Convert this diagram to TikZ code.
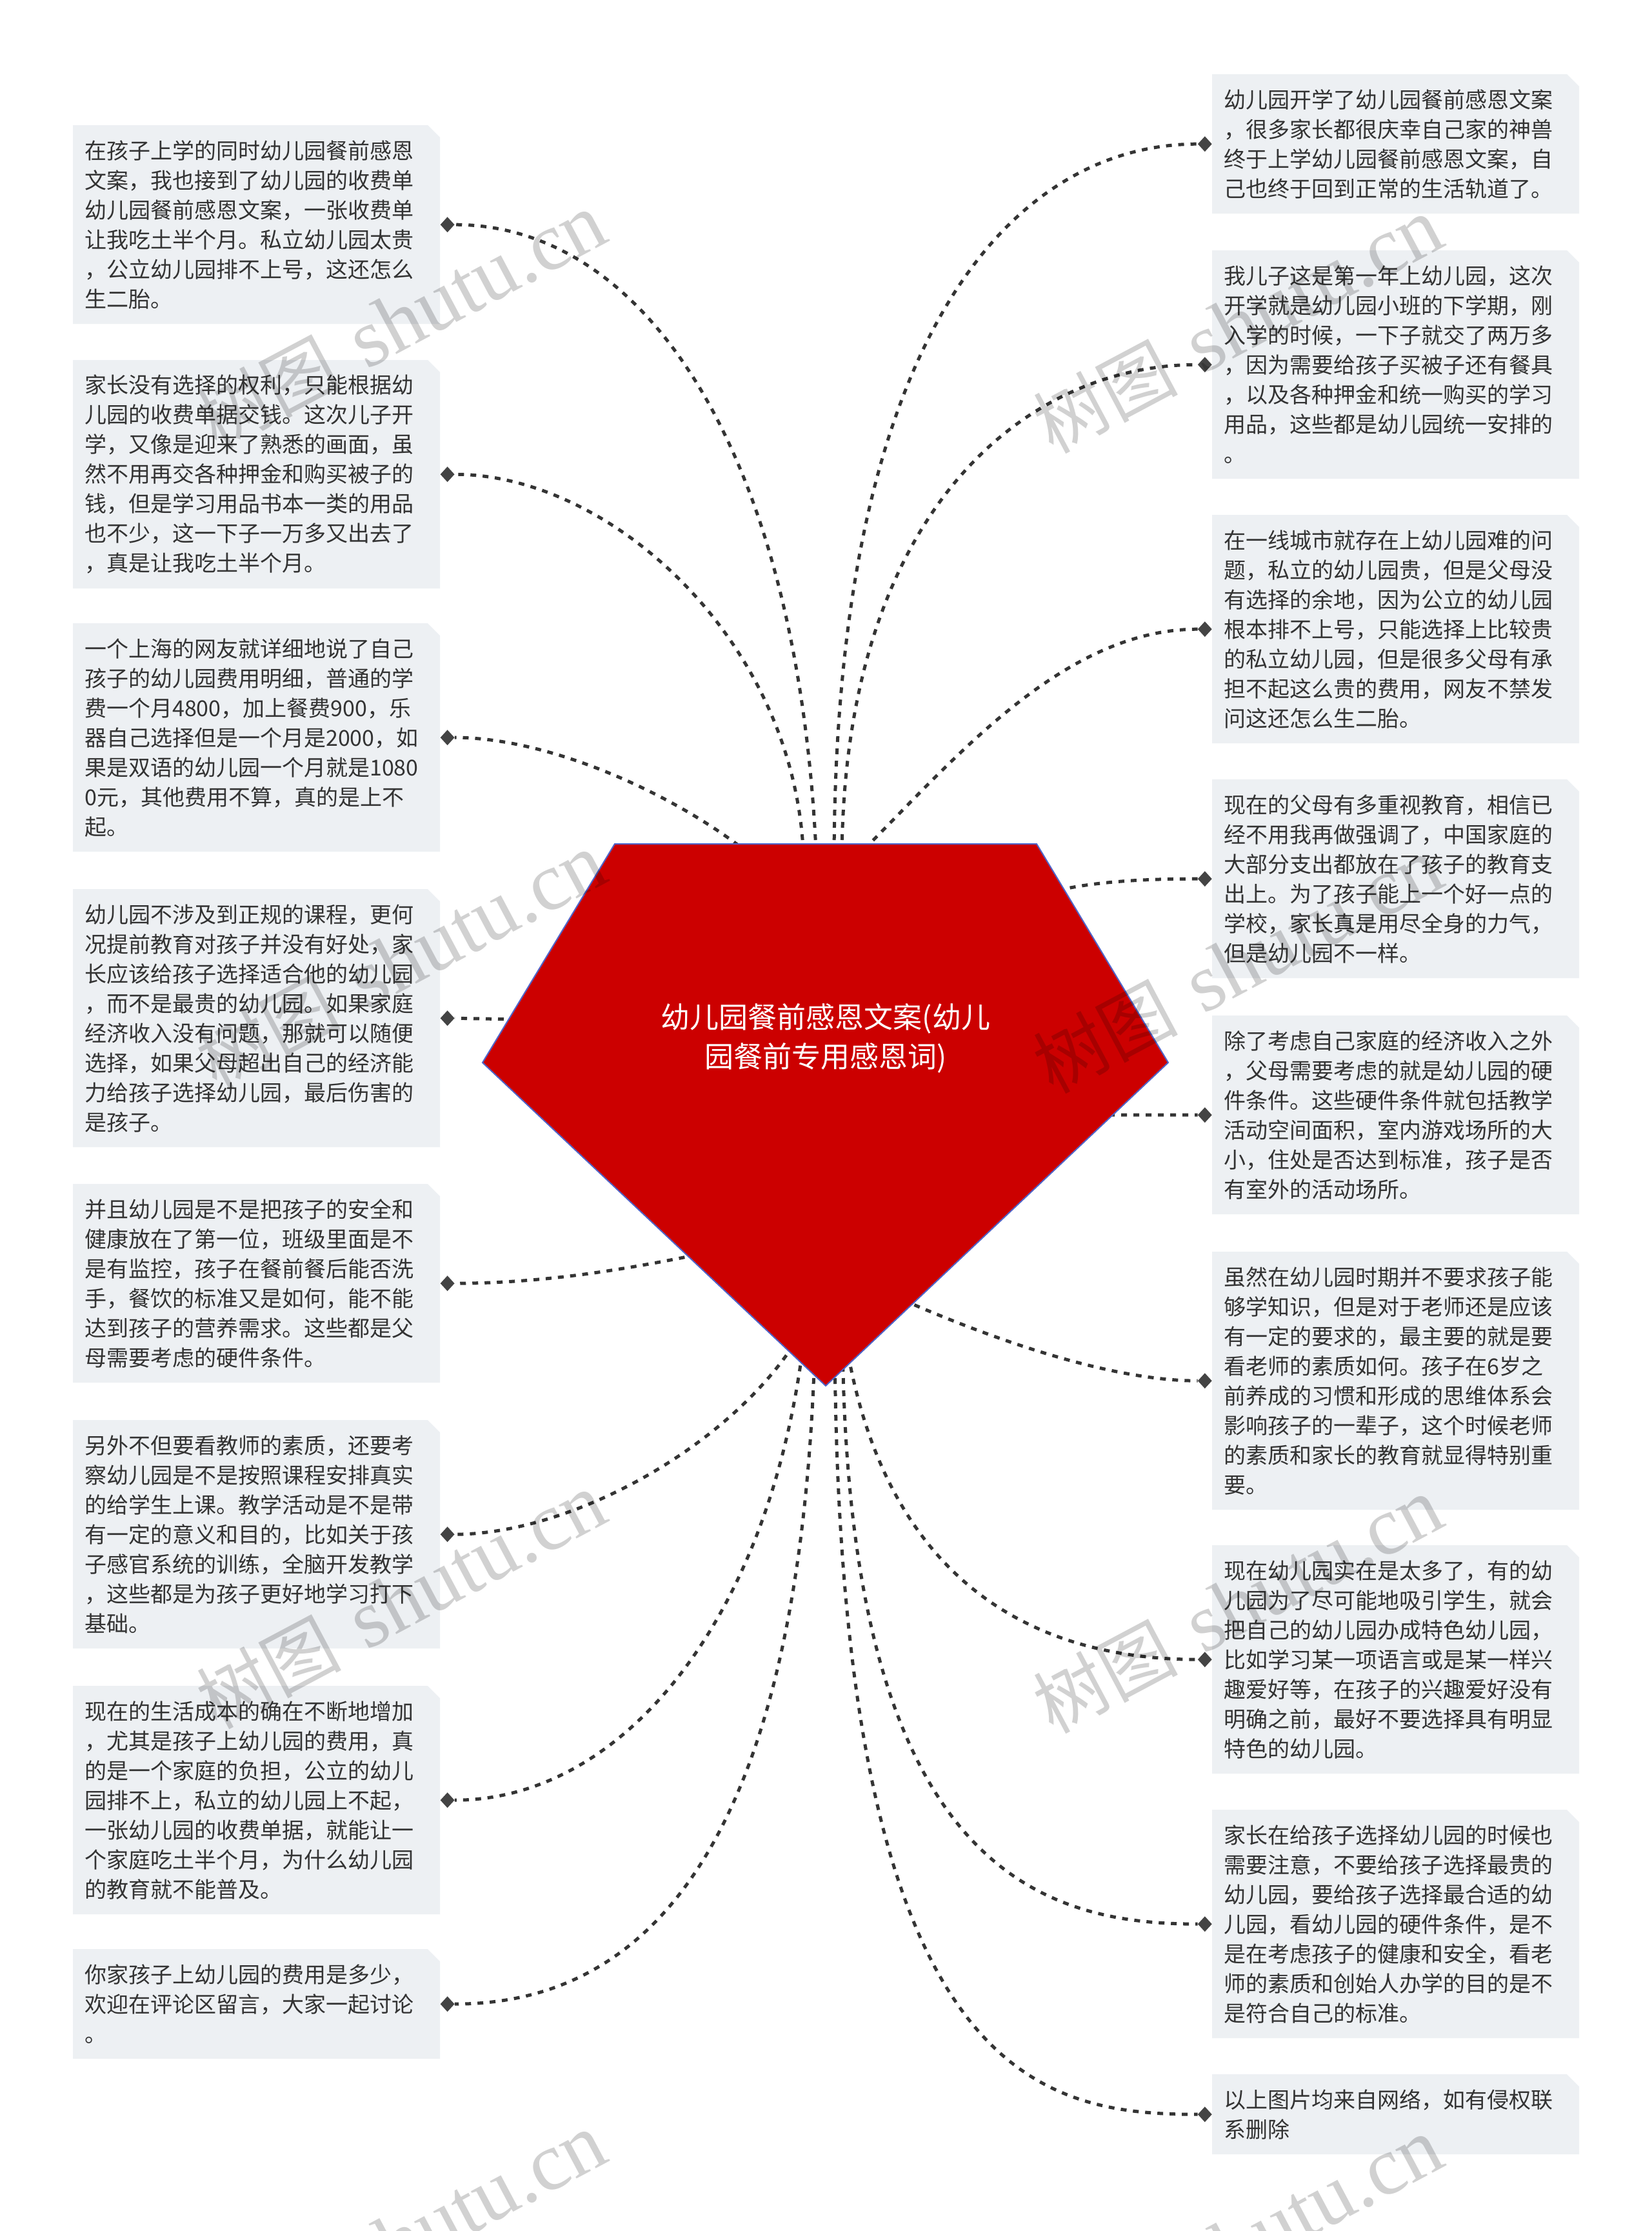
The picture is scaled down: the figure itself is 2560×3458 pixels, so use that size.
\documentclass[tikz,border=0pt]{standalone}
\usepackage{fontspec}
\newfontfamily\cjk{Noto Sans CJK SC}
\newfontfamily\wmlat{Liberation Serif}
\usetikzlibrary{shapes.geometric}
\definecolor{boxbg}{RGB}{237,240,243}
\definecolor{txt}{RGB}{51,51,51}
\definecolor{lnk}{RGB}{52,52,52}
\definecolor{diafill}{RGB}{68,68,68}
\definecolor{rootred}{RGB}{204,0,0}
\definecolor{rootline}{RGB}{80,100,200}
\tikzset{
  leaf/.style={anchor=north west, align=left, text width=533pt, inner xsep=18pt, inner ysep=0pt,
    minimum width=569pt, font=\cjk\fontsize{34pt}{46pt}\selectfont, text=txt},
  dmark/.style={shape=diamond, fill=diafill, draw=none, minimum width=22pt, minimum height=24pt, inner sep=0pt},
  conn/.style={draw=lnk, line width=5pt, dash pattern=on 9pt off 10pt},
  rootshape/.style={fill=rootred, draw=rootline, line width=2pt, line join=miter},
  roottext/.style={align=center, text=white, font=\cjk\fontsize{45pt}{61pt}\selectfont, inner sep=0pt},
  wm/.style={anchor=base west, rotate=28, text=black, text opacity=0.18, inner sep=0pt}
}
\newcommand\wmtext{{\cjk\fontsize{112pt}{112pt}\selectfont 树图}\hspace{40pt}{\wmlat\fontsize{128pt}{128pt}\selectfont shutu.cn}}
\newcommand\mmbox[5]{%
  \fill[boxbg] (#2,#3) -- ({#2+550},#3) -- ({#2+569},{#3+19}) -- ({#2+569},{#3+#4}) -- (#2,{#3+#4}) -- cycle;
  \node[leaf, minimum height=#4pt] (#1) at (#2,#3) {#5};}
\begin{document}
\begin{tikzpicture}[x=1pt, y=-1pt]
\fill[white] (0,0) rectangle (2560,3458);
\useasboundingbox (0,0) rectangle (2560,3458);

% left boxes
\mmbox{L1}{113}{194}{308}{在孩子上学的同时幼儿园餐前感恩\\文案，我也接到了幼儿园的收费单\\幼儿园餐前感恩文案，一张收费单\\让我吃土半个月。私立幼儿园太贵\\，公立幼儿园排不上号，这还怎么\\生二胎。}
\mmbox{L2}{113}{558}{354}{家长没有选择的权利，只能根据幼\\儿园的收费单据交钱。这次儿子开\\学，又像是迎来了熟悉的画面，虽\\然不用再交各种押金和购买被子的\\钱，但是学习用品书本一类的用品\\也不少，这一下子一万多又出去了\\，真是让我吃土半个月。}
\mmbox{L3}{113}{966}{354}{一个上海的网友就详细地说了自己\\孩子的幼儿园费用明细，普通的学\\费一个月4800，加上餐费900，乐\\器自己选择但是一个月是2000，如\\果是双语的幼儿园一个月就是1080\\0元，其他费用不算，真的是上不\\起。}
\mmbox{L4}{113}{1378}{400}{幼儿园不涉及到正规的课程，更何\\况提前教育对孩子并没有好处，家\\长应该给孩子选择适合他的幼儿园\\，而不是最贵的幼儿园。如果家庭\\经济收入没有问题，那就可以随便\\选择，如果父母超出自己的经济能\\力给孩子选择幼儿园，最后伤害的\\是孩子。}
\mmbox{L5}{113}{1835}{308}{并且幼儿园是不是把孩子的安全和\\健康放在了第一位，班级里面是不\\是有监控，孩子在餐前餐后能否洗\\手，餐饮的标准又是如何，能不能\\达到孩子的营养需求。这些都是父\\母需要考虑的硬件条件。}
\mmbox{L6}{113}{2201}{354}{另外不但要看教师的素质，还要考\\察幼儿园是不是按照课程安排真实\\的给学生上课。教学活动是不是带\\有一定的意义和目的，比如关于孩\\子感官系统的训练，全脑开发教学\\，这些都是为孩子更好地学习打下\\基础。}
\mmbox{L7}{113}{2613}{354}{现在的生活成本的确在不断地增加\\，尤其是孩子上幼儿园的费用，真\\的是一个家庭的负担，公立的幼儿\\园排不上，私立的幼儿园上不起，\\一张幼儿园的收费单据，就能让一\\个家庭吃土半个月，为什么幼儿园\\的教育就不能普及。}
\mmbox{L8}{113}{3021}{170}{你家孩子上幼儿园的费用是多少，\\欢迎在评论区留言，大家一起讨论\\。}

% right boxes
\mmbox{R1}{1879}{115}{216}{幼儿园开学了幼儿园餐前感恩文案\\，很多家长都很庆幸自己家的神兽\\终于上学幼儿园餐前感恩文案，自\\己也终于回到正常的生活轨道了。}
\mmbox{R2}{1879}{388}{354}{我儿子这是第一年上幼儿园，这次\\开学就是幼儿园小班的下学期，刚\\入学的时候，一下子就交了两万多\\，因为需要给孩子买被子还有餐具\\，以及各种押金和统一购买的学习\\用品，这些都是幼儿园统一安排的\\。}
\mmbox{R3}{1879}{798}{354}{在一线城市就存在上幼儿园难的问\\题，私立的幼儿园贵，但是父母没\\有选择的余地，因为公立的幼儿园\\根本排不上号，只能选择上比较贵\\的私立幼儿园，但是很多父母有承\\担不起这么贵的费用，网友不禁发\\问这还怎么生二胎。}
\mmbox{R4}{1879}{1208}{308}{现在的父母有多重视教育，相信已\\经不用我再做强调了，中国家庭的\\大部分支出都放在了孩子的教育支\\出上。为了孩子能上一个好一点的\\学校，家长真是用尽全身的力气，\\但是幼儿园不一样。}
\mmbox{R5}{1879}{1574}{308}{除了考虑自己家庭的经济收入之外\\，父母需要考虑的就是幼儿园的硬\\件条件。这些硬件条件就包括教学\\活动空间面积，室内游戏场所的大\\小，住处是否达到标准，孩子是否\\有室外的活动场所。}
\mmbox{R6}{1879}{1940}{400}{虽然在幼儿园时期并不要求孩子能\\够学知识，但是对于老师还是应该\\有一定的要求的，最主要的就是要\\看老师的素质如何。孩子在6岁之\\前养成的习惯和形成的思维体系会\\影响孩子的一辈子，这个时候老师\\的素质和家长的教育就显得特别重\\要。}
\mmbox{R7}{1879}{2395}{354}{现在幼儿园实在是太多了，有的幼\\儿园为了尽可能地吸引学生，就会\\把自己的幼儿园办成特色幼儿园，\\比如学习某一项语言或是某一样兴\\趣爱好等，在孩子的兴趣爱好没有\\明确之前，最好不要选择具有明显\\特色的幼儿园。}
\mmbox{R8}{1879}{2805}{354}{家长在给孩子选择幼儿园的时候也\\需要注意，不要给孩子选择最贵的\\幼儿园，要给孩子选择最合适的幼\\儿园，看幼儿园的硬件条件，是不\\是在考虑孩子的健康和安全，看老\\师的素质和创始人办学的目的是不\\是符合自己的标准。}
\mmbox{R9}{1879}{3215}{124}{以上图片均来自网络，如有侵权联\\系删除}

% diamond markers
\foreach \n in {L1,L2,L3,L4,L5,L6,L7,L8}
  \node[dmark, anchor=west] (d\n) at (\n.east) {};
\foreach \n in {R1,R2,R3,R4,R5,R6,R7,R8,R9}
  \node[dmark, anchor=east] (d\n) at (\n.west) {};

% connector start points (hidden under the root shape)
\coordinate (sL1) at (1266,1340);
\coordinate (sL2) at (1246,1340);
\coordinate (sL3) at (1160,1322);
\coordinate (sL4) at (800,1580);
\coordinate (sL5) at (1080,1945);
\coordinate (sL6) at (1230,2085);
\coordinate (sL7) at (1248,2060);
\coordinate (sL8) at (1264,2060);
\coordinate (sR1) at (1293,1340);
\coordinate (sR2) at (1305,1340);
\coordinate (sR3) at (1340,1316);
\coordinate (sR4) at (1640,1380);
\coordinate (sR5) at (1700,1728);
\coordinate (sR6) at (1400,2015);
\coordinate (sR7) at (1315,2100);
\coordinate (sR8) at (1306,2060);
\coordinate (sR9) at (1294,2060);

\draw[conn] (sL1) .. controls (1240,700) and (1000,348) .. (dL1.east);
\draw[conn] (sL2) .. controls (1240,1000) and (950,735) .. (dL2.east);
\draw[conn] (sL3) .. controls (1043,1229) and (850,1143) .. (dL3.east);
\draw[conn] (sL4) -- (dL4.east);
\draw[conn] (sL5) .. controls (980,1965) and (850,1989) .. (dL5.east);
\draw[conn] (sL6) .. controls (1120,2250) and (880,2378) .. (dL6.east);
\draw[conn] (sL7) .. controls (1200,2502) and (970,2790) .. (dL7.east);
\draw[conn] (sL8) .. controls (1245,2900) and (980,3106) .. (dL8.east);
\draw[conn] (sR1) .. controls (1293,502) and (1580,223) .. (dR1.west);
\draw[conn] (sR2) .. controls (1305,797) and (1586,565) .. (dR2.west);
\draw[conn] (sR3) .. controls (1481,1175) and (1650,975) .. (dR3.west);
\draw[conn] (sR4) .. controls (1700,1366) and (1780,1362) .. (dR4.west);
\draw[conn] (sR5) -- (dR5.west);
\draw[conn] (sR6) .. controls (1492,2055) and (1700,2140) .. (dR6.west);
\draw[conn] (sR7) .. controls (1380,2450) and (1600,2572) .. (dR7.west);
\draw[conn] (sR8) .. controls (1310,2900) and (1615,2982) .. (dR8.west);
\draw[conn] (sR9) .. controls (1296,3224) and (1609,3277) .. (dR9.west);

% root pentagon
\coordinate (p1) at (953,1308);
\coordinate (p2) at (1607,1308);
\coordinate (p3) at (1811,1647);
\coordinate (p4) at (1280,2148);
\coordinate (p5) at (748,1647);
\path[rootshape] (p1) -- (p2) -- (p3) -- (p4) -- (p5) -- cycle;
\node[roottext] (root) at (1280,1609) {幼儿园餐前感恩文案(幼儿\\园餐前专用感恩词)};

% watermarks
\foreach \k in {0,1,2,3} {
  \node[wm] (wml\k) at (335,{698+992*\k}) {\wmtext};
  \node[wm] (wmr\k) at (1632,{705+992*\k}) {\wmtext};
}
\end{tikzpicture}
\end{document}
